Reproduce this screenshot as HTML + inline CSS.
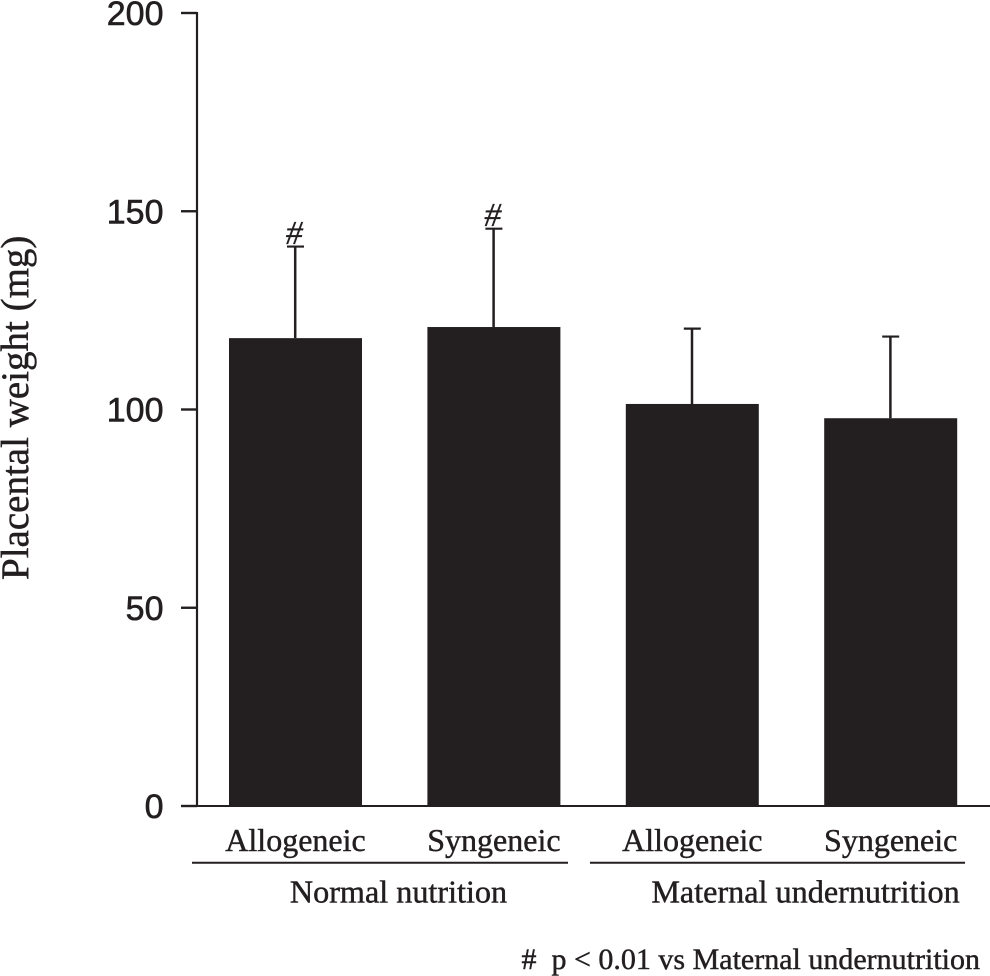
<!DOCTYPE html>
<html lang="en">
<head>
<meta charset="utf-8">
<title>Placental weight</title>
<style>
html,body{margin:0;padding:0;background:#fff;width:990px;height:976px;overflow:hidden}
svg{display:block}
text{fill:#231f20;stroke:#231f20;stroke-width:0.45px}
.serif{font-family:"Liberation Serif",serif;font-size:32px}
.sans{font-family:"Liberation Sans",sans-serif;font-size:34px;stroke-width:0.6px}
.title{font-size:39px}
.group{font-size:32.2px}
.note{font-size:30px}
.mark{font-style:italic;font-size:34px;stroke-width:0.3px}
</style>
</head>
<body>
<svg id="chart" xmlns="http://www.w3.org/2000/svg" width="990" height="976" viewBox="0 0 990 976">
  <text class="serif title" transform="translate(28,580) rotate(-90)">Placental weight (mg)</text>
  <line x1="192" x2="568" y1="862.7" y2="862.7" stroke="#231f20" stroke-width="2"/>
  <line x1="590" x2="965" y1="862.7" y2="862.7" stroke="#231f20" stroke-width="2"/>
  <text class="serif group" x="398.5" y="902.5" text-anchor="middle">Normal nutrition</text>
  <text class="serif group" x="805.5" y="902.5" text-anchor="middle">Maternal undernutrition</text>
  <text class="serif note" x="980" y="969" text-anchor="end" xml:space="preserve">#  p &lt; 0.01 vs Maternal undernutrition</text>
</svg>
<script>
const categories = ['Allogeneic', 'Syngeneic', 'Allogeneic', 'Syngeneic'];
const meanValues = [118.0, 120.8, 101.4, 97.8];
const errorTops = [141.1, 145.6, 120.4, 118.4];
const significant = [true, true, false, false];
const yTicks = [0, 50, 100, 150, 200];

const INK = '#231f20';
const svg = document.getElementById('chart');
const NS = 'http://www.w3.org/2000/svg';

function yScale(v) { return 806 - v * (793 / 200); }
function bandCenter(i) { return 295.5 + i * 198.4; }

function make(tag, attrs) {
  const el = document.createElementNS(NS, tag);
  for (const k in attrs) el.setAttribute(k, attrs[k]);
  svg.appendChild(el);
  return el;
}

categories.forEach(function (name, i) {
  const cx = bandCenter(i);
  const top = yScale(meanValues[i]);
  const capY = yScale(errorTops[i]);

  const whisker = make('line', { x1: cx - 0.3, x2: cx - 0.3, y1: capY, y2: top, stroke: INK, 'stroke-width': 2.5 });
  
  

  const cap = make('line', { x1: cx - 8.5, x2: cx + 8.5, y1: capY, y2: capY, stroke: INK, 'stroke-width': 2.2 });
  
  

  const bar = make('rect', { x: cx - 66.5, y: top, width: 133, height: yScale(0) - top + 1, fill: INK });
  
  

  const label = make('text', { x: cx, y: 851, 'text-anchor': 'middle', class: 'serif' });
  label.textContent = name;
  
  

  if (significant[i]) {
    const mark = make('text', { x: cx - 1.2, y: capY - 2.5, 'text-anchor': 'middle', class: 'serif mark' });
    mark.textContent = '#';
    
    
  }
});

const yAxis = make('line', { x1: 197, x2: 197, y1: yScale(200) - 1, y2: yScale(0), stroke: INK, 'stroke-width': 2.2 });



const xAxis = make('line', { x1: 197, x2: 990, y1: yScale(0), y2: yScale(0), stroke: INK, 'stroke-width': 2 });



yTicks.forEach(function (t) {
  const y = yScale(t);
  const tick = make('line', { x1: 181, x2: 197, y1: y, y2: y, stroke: INK, 'stroke-width': 2.4 });
  
  

  const label = make('text', { x: 163.5, y: y + 12, 'text-anchor': 'end', class: 'sans' });
  label.textContent = String(t);
  
  
});
</script>
</body>
</html>
